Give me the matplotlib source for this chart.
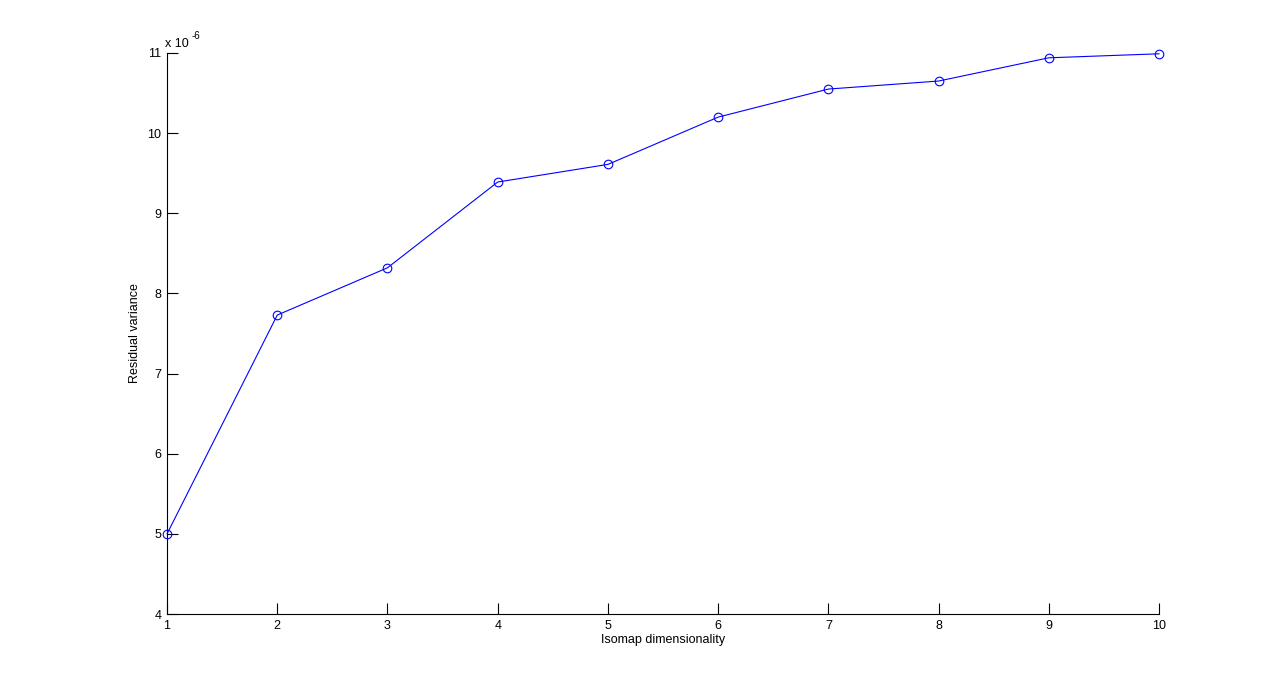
import matplotlib
matplotlib.use("Agg")
import matplotlib.pyplot as plt

dims = [1, 2, 3, 4, 5, 6, 7, 8, 9, 10]
residual_e6 = [5.0, 7.73, 8.32, 9.39, 9.61, 10.20, 10.55, 10.65, 10.94, 10.99]
x_ticks = [1, 2, 3, 4, 5, 6, 7, 8, 9, 10]
y_ticks = [4, 5, 6, 7, 8, 9, 10, 11]

plt.rcParams['font.family'] = ['Liberation Sans', 'DejaVu Sans']
fig = plt.figure(figsize=(12.8, 6.9), dpi=100)
ax = fig.add_axes([0.1305, 0.1101, 0.775, 0.8131])
ax.plot(dims, residual_e6, color='#0000ff', linewidth=0.8, marker='o',
        markersize=6.2, markerfacecolor='none', markeredgecolor='#0000ff',
        markeredgewidth=0.8, clip_on=False, zorder=5)
ax.set_xlim(1, 10)
ax.set_ylim(4, 11)
ax.set_xticks(x_ticks)
ax.set_yticks(y_ticks)
ax.spines['top'].set_visible(False)
ax.spines['right'].set_visible(False)
ax.tick_params(direction='in', length=8, width=0.8, labelsize=9, pad=4)
ax.set_xlabel('Isomap dimensionality', fontsize=9, labelpad=2)
ax.set_ylabel('Residual variance', fontsize=9, labelpad=5)
ax.text(-0.002, 1.006, 'x 10', transform=ax.transAxes, fontsize=9,
        ha='left', va='bottom')
ax.text(0.0245, 1.022, '-6', transform=ax.transAxes, fontsize=7,
        ha='left', va='bottom')
fig.savefig('out.png', dpi=100)
